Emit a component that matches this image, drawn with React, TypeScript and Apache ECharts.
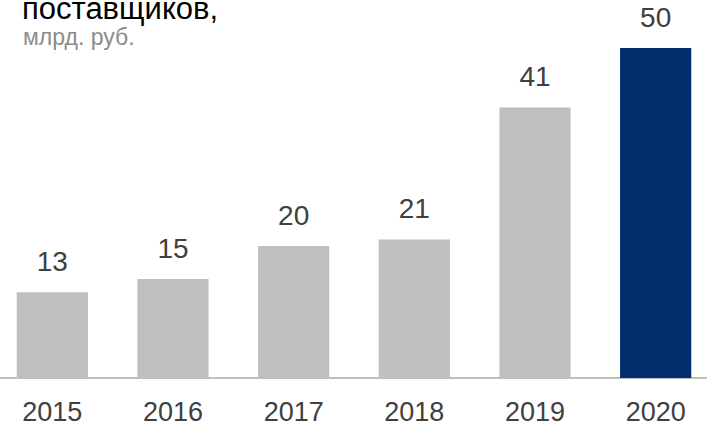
import React, { useEffect, useRef } from "react";
import * as echarts from "echarts";

const years = ["2015", "2016", "2017", "2018", "2019", "2020"];
const values = [13, 15, 20, 21, 41, 50];
const barColors = ["#bfbfbf", "#bfbfbf", "#bfbfbf", "#bfbfbf", "#bfbfbf", "#002f6c"];
const titleText = "поставщиков,";
const subtitleText = "млрд. руб.";

export default function App() {
  const ref = useRef<HTMLDivElement>(null);
  useEffect(() => {
    const chart = echarts.init(ref.current!, null, { renderer: "svg" });
    chart.setOption({
      animation: false,
      graphic: [
        {
          type: "text",
          x: 22,
          y: -7,
          style: {
            text: titleText,
            fontFamily: "Liberation Sans, Arial",
            fontSize: 31,
            fill: "#000",
          },
        },
        {
          type: "text",
          x: 23,
          y: 25,
          style: {
            text: subtitleText,
            fontFamily: "Liberation Sans, Arial",
            fontSize: 23,
            fill: "#8c8c8c",
          },
        },
      ],
      grid: { left: -8, right: -9, top: 48, bottom: 49, outerBoundsMode: "none", containLabel: false },
      xAxis: {
        type: "category",
        data: years,
        axisLine: { show: true, lineStyle: { color: "#bfbfbf", width: 2 } },
        axisTick: { show: false },
        axisLabel: {
          margin: 20,
          fontFamily: "Liberation Sans, Arial",
          fontSize: 27,
          color: "#404040",
        },
      },
      yAxis: {
        type: "value",
        min: 0,
        max: 50,
        show: false,
        splitLine: { show: false },
      },
      series: [
        {
          type: "bar",
          data: values.map((v, i) => ({ value: v, itemStyle: { color: barColors[i] } })),
          barWidth: "59%",
          label: {
            show: true,
            position: "top",
            distance: 17,
            fontFamily: "Liberation Sans, Arial",
            fontSize: 28,
            color: "#404040",
          },
        },
      ],
    });
    return () => chart.dispose();
  }, []);
  return <div ref={ref} style={{ width: 707, height: 427, position: "absolute", left: 0, top: 0 }} />;
}
